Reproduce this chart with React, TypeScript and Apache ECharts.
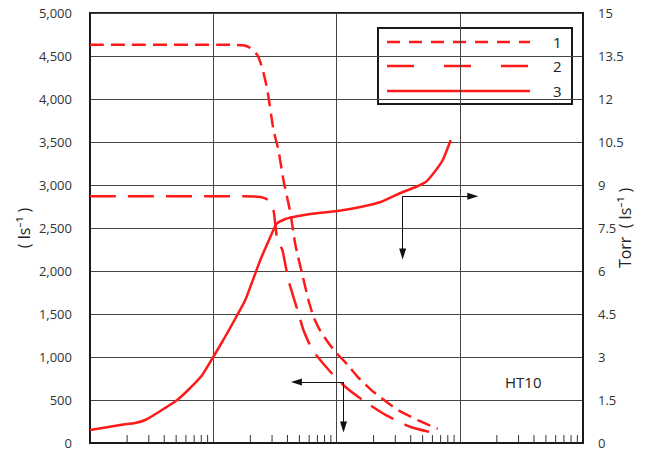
import React, { useEffect, useRef } from 'react';
import * as echarts from 'echarts';

// Pressure (x, log scale) and pumping speed values
const curve1X = [0.001, 0.01374, 0.01754, 0.0200, 0.0228, 0.0250, 0.0275, 0.0308, 0.0338, 0.0371, 0.0423, 0.0464, 0.0529, 0.0592, 0.0650, 0.0741, 0.0861, 0.0982, 0.1228, 0.1482, 0.2000, 0.3133, 0.4560, 0.6622];
const curve1Y = [4630, 4630, 4625, 4593, 4512, 4360, 4105, 3640, 3407, 3058, 2674, 2302, 1953, 1663, 1470, 1300, 1163, 1058, 910, 770, 593, 384, 267, 163];

const curve2X = [0.001, 0.01754, 0.0241, 0.0280, 0.0308, 0.0319, 0.0331, 0.0364, 0.0407, 0.0482, 0.0539, 0.0638, 0.0894, 0.1183, 0.1626, 0.2500, 0.4000, 0.6622];
const curve2Y = [2870, 2870, 2860, 2826, 2709, 2535, 2360, 2244, 1895, 1547, 1314, 1081, 826, 651, 500, 326, 186, 105];

const curve3X = [0.001, 0.001754, 0.002323, 0.0028, 0.003508, 0.005093, 0.006501, 0.008145, 0.01, 0.01206, 0.01567, 0.0182, 0.0241, 0.02904, 0.03251, 0.03846, 0.04467, 0.06146, 0.1019, 0.1567, 0.228, 0.3311, 0.4385, 0.5297, 0.6152, 0.728, 0.8458];
const curve3Y = [0.453, 0.628, 0.698, 0.802, 1.047, 1.5, 1.919, 2.372, 3.0, 3.593, 4.465, 4.988, 6.384, 7.186, 7.64, 7.814, 7.884, 7.988, 8.093, 8.233, 8.407, 8.721, 8.93, 9.105, 9.419, 9.872, 10.57];

// Arrow annotations: [start x, start y, horizontal end x, vertical end y]
const arrowRight = [0.344, 8.61, 1.276, 6.59]; // right axis units
const arrowLeft = [0.114, 709, 0.0473, 186]; // left axis units

const legendLabels = ['1', '2', '3'];
const minorTickX: number[] = [];
[0.001, 0.01, 0.1, 1].forEach((d) => {
  for (let k = 2; k <= 9; k++) minorTickX.push(+(d * k).toPrecision(3));
});

const RED = '#ff1a1a';
const FONT = '"Open Sans", "Noto Sans", sans-serif';

const zip = (xs: number[], ys: number[]) => xs.map((x, i) => [x, ys[i]]);

export default function App() {
  const ref = useRef<HTMLDivElement>(null);
  useEffect(() => {
    if (!ref.current) return;
    const chart = echarts.init(ref.current, undefined, { renderer: 'svg' });
    const dash1 = [14, 7];
    const dash2 = [26, 12];
    const arrowStyle = { color: '#111', width: 1, type: 'solid' as const };
    chart.setOption({
      animation: false,
      backgroundColor: '#fff',
      grid: {
        left: 90,
        right: 63,
        top: 13,
        bottom: 9,
        containLabel: false,
        outerBoundsMode: 'none',
        show: true,
        borderColor: '#1a1a1a',
        borderWidth: 2,
        backgroundColor: 'transparent',
      },
      xAxis: {
        type: 'log',
        logBase: 10,
        min: 0.001,
        max: 10,
        axisLabel: { show: false },
        axisTick: { show: false },
        axisLine: { show: true, lineStyle: { color: '#1a1a1a', width: 2 } },
        splitLine: { show: true, lineStyle: { color: '#444', width: 1 } },
      },
      yAxis: [
        {
          type: 'value',
          min: 0,
          max: 5000,
          interval: 500,
          position: 'left',
          name: '( ls⁻¹ )',
          nameLocation: 'middle',
          nameGap: 58,
          nameMoveOverlap: false,
          nameTextStyle: { fontFamily: FONT, fontSize: 16, color: '#222' },
          axisLabel: {
            margin: 18,
            fontFamily: FONT,
            fontSize: 13,
            color: '#333',
            formatter: (v: number) => v.toLocaleString('en-US'),
          },
          axisTick: { show: false },
          axisLine: { show: true, lineStyle: { color: '#1a1a1a', width: 2 } },
          splitLine: { show: true, lineStyle: { color: '#444', width: 1 } },
        },
        {
          type: 'value',
          min: 0,
          max: 15,
          interval: 1.5,
          position: 'right',
          name: 'Torr  ( ls⁻¹ )',
          nameLocation: 'middle',
          nameGap: 34,
          nameMoveOverlap: false,
          nameTextStyle: { fontFamily: FONT, fontSize: 16, color: '#222' },
          axisLabel: { margin: 15, fontFamily: FONT, fontSize: 13, color: '#333' },
          axisTick: { show: false },
          axisLine: { show: true, lineStyle: { color: '#1a1a1a', width: 2 } },
          splitLine: { show: false },
        },
      ],
      series: [
        {
          name: legendLabels[0],
          type: 'line',
          data: zip(curve1X, curve1Y),
          showSymbol: false,
          smooth: 0.15,
          lineStyle: { color: RED, width: 2.5, type: dash1 },
          z: 3,
        },
        {
          name: legendLabels[1],
          type: 'line',
          data: zip(curve2X, curve2Y),
          showSymbol: false,
          smooth: 0.15,
          lineStyle: { color: RED, width: 2.5, type: dash2 },
          z: 3,
          markLine: {
            silent: true,
            symbol: ['none', 'triangle'],
            symbolSize: [7, 11],
            label: { show: false },
            lineStyle: arrowStyle,
            data: [
              [{ coord: [arrowLeft[0], arrowLeft[1]] }, { coord: [arrowLeft[2], arrowLeft[1]] }],
              [{ coord: [arrowLeft[0], arrowLeft[1]] }, { coord: [arrowLeft[0], arrowLeft[3]] }],
            ],
          },
        },
        {
          name: legendLabels[2],
          type: 'line',
          yAxisIndex: 1,
          data: zip(curve3X, curve3Y),
          showSymbol: false,
          smooth: 0.15,
          lineStyle: { color: RED, width: 2.5, type: 'solid' },
          z: 3,
          markLine: {
            silent: true,
            symbol: ['none', 'triangle'],
            symbolSize: [7, 11],
            label: { show: false },
            lineStyle: arrowStyle,
            data: [
              [{ coord: [arrowRight[0], arrowRight[1]] }, { coord: [arrowRight[2], arrowRight[1]] }],
              [{ coord: [arrowRight[0], arrowRight[1]] }, { coord: [arrowRight[0], arrowRight[3]] }],
            ],
          },
        },
        {
          type: 'custom',
          silent: true,
          data: minorTickX.map((x) => [x, 0]),
          renderItem: (params: any, api: any) => {
            const p = api.coord([api.value(0), 0]);
            return {
              type: 'line',
              shape: { x1: p[0], y1: p[1], x2: p[0], y2: p[1] - 8 },
              style: { stroke: '#333', lineWidth: 1 },
            };
          },
          z: 2,
        },
      ],
      graphic: [
        {
          type: 'group',
          z: 10,
          children: [
            {
              type: 'rect',
              shape: { x: 378, y: 28, width: 194, height: 76 },
              style: { fill: '#fff', stroke: '#1a1a1a', lineWidth: 2 },
            },
            {
              type: 'line',
              shape: { x1: 387, y1: 42, x2: 530, y2: 42 },
              style: { stroke: RED, lineWidth: 2.5, lineDash: [13, 9] },
            },
            {
              type: 'line',
              shape: { x1: 387, y1: 66, x2: 530, y2: 66 },
              style: { stroke: RED, lineWidth: 2.5, lineDash: [27, 30] },
            },
            {
              type: 'line',
              shape: { x1: 387, y1: 91, x2: 530, y2: 91 },
              style: { stroke: RED, lineWidth: 2.5 },
            },
            ...legendLabels.map((t, i) => ({
              type: 'text',
              style: {
                text: t,
                x: 553,
                y: [42, 66, 91][i],
                fill: '#222',
                font: `15px ${FONT}`,
                verticalAlign: 'middle',
              },
            })),
          ],
        },
        {
          type: 'text',
          z: 10,
          style: {
            text: 'HT10',
            x: 505,
            y: 382,
            fill: '#222',
            font: `15px ${FONT}`,
            verticalAlign: 'middle',
          },
        },
      ],
    });
    return () => chart.dispose();
  }, []);
  return (
    <div
      ref={ref}
      style={{ position: 'fixed', left: 0, top: 0, width: 646, height: 452 }}
    />
  );
}
